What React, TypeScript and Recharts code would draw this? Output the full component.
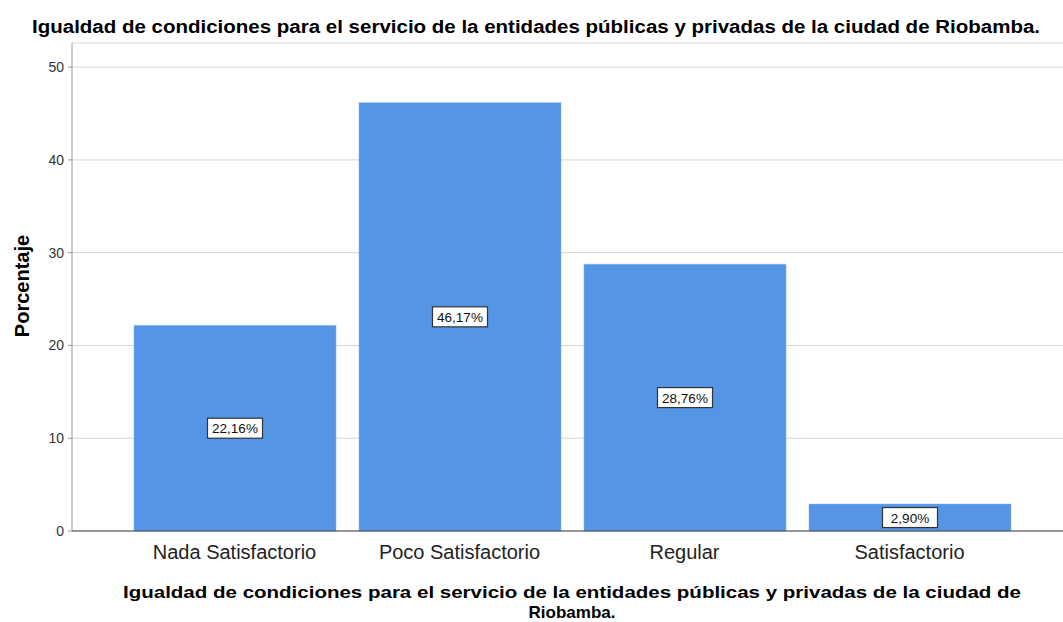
import { BarChart, Bar, XAxis, YAxis, CartesianGrid, LabelList } from 'recharts'

const categories = ['Nada Satisfactorio', 'Poco Satisfactorio', 'Regular', 'Satisfactorio']
const percentages = [22.16, 46.17, 28.76, 2.9]
const yTicks = [0, 10, 20, 30, 40, 50]

const TITLE = 'Igualdad de condiciones para el servicio de la entidades públicas y privadas de la ciudad de Riobamba.'
const XTITLE_1 = 'Igualdad de condiciones para el servicio de la entidades públicas y privadas de la ciudad de'
const XTITLE_2 = 'Riobamba.'

const FONT = '"Liberation Sans", Arial, sans-serif'

const data = categories.map((c, i) => ({ cat: c, pct: percentages[i] }))

const fmt = (v: number) => v.toFixed(2).replace('.', ',') + '%'

function ValueBox(props: any) {
  const { x, y, width, height, value } = props
  const cx = x + width / 2
  const cy = y + height / 2
  const w = 55
  const h = 20
  return (
    <g>
      <rect x={cx - w / 2} y={cy - h / 2} width={w} height={h} fill="#fff" stroke="#333" strokeWidth={1.2} />
      <text x={cx} y={cy + 5} textAnchor="middle" fontSize={13.5} fontFamily={FONT} fill="#111">
        {fmt(value)}
      </text>
    </g>
  )
}

export default function App() {
  return (
    <div style={{ position: 'relative', width: 1063, height: 622, background: '#fff', fontFamily: FONT }}>
      <style>{'body{margin:0}'}</style>
      <BarChart
        width={1063}
        height={622}
        data={data}
        margin={{ top: 43, right: 0, bottom: 61, left: 0 }}
        barSize={202}
      >
        <CartesianGrid vertical={false} stroke="#d4d4d4" strokeWidth={1} />
        <XAxis
          dataKey="cat"
          height={30}
          padding={{ left: 50, right: 41 }}
          axisLine={{ stroke: '#444' }}
          tickLine={false}
          tick={{ fontSize: 20, fill: '#222', fontFamily: FONT }}
          tickMargin={8}
          interval={0}
        />
        <YAxis
          width={72}
          domain={[0, 52.6]}
          ticks={yTicks}
          axisLine={{ stroke: '#999' }}
          tickLine={{ stroke: '#999' }}
          tickSize={4}
          tick={{ fontSize: 14, fill: '#333', fontFamily: FONT }}
          tickMargin={4}
        />
        <Bar dataKey="pct" fill="#5595e5" stroke="#7aaef0" strokeWidth={0.5} isAnimationActive={false}>
          <LabelList dataKey="pct" content={<ValueBox />} />
        </Bar>
      </BarChart>
      <svg width={1063} height={622} style={{ position: 'absolute', left: 0, top: 0, pointerEvents: 'none' }}>
        <text x={32} y={33} fontSize={18} fontWeight="bold" fontFamily={FONT} textLength={1008} lengthAdjust="spacingAndGlyphs" fill="#000">
          {TITLE}
        </text>
        <text
          x={22}
          y={286}
          transform="rotate(-90 22 286)"
          textAnchor="middle"
          dominantBaseline="central"
          fontSize={20}
          fontWeight="bold"
          fontFamily={FONT}
          fill="#000"
        >
          Porcentaje
        </text>
        <text x={123} y={598} fontSize={17} fontWeight="bold" fontFamily={FONT} textLength={898} lengthAdjust="spacingAndGlyphs" fill="#000">
          {XTITLE_1}
        </text>
        <text x={572} y={618} textAnchor="middle" fontSize={17} fontWeight="bold" fontFamily={FONT} fill="#000">
          {XTITLE_2}
        </text>
      </svg>
    </div>
  )
}
